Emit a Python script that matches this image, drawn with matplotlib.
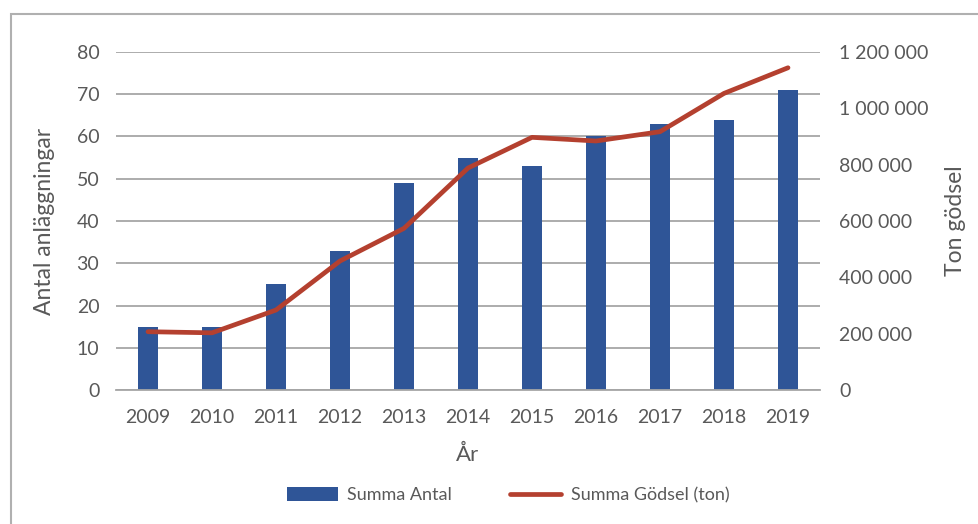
import numpy as np
import matplotlib
matplotlib.use('Agg')
from matplotlib import pyplot as plt
from matplotlib.patches import Rectangle
from matplotlib.ticker import FuncFormatter

# data
years        = ['2009', '2010', '2011', '2012', '2013', '2014',
                '2015', '2016', '2017', '2018', '2019']
summa_antal  = [15, 15, 25, 33, 49, 55, 53, 60, 63, 64, 71]
summa_godsel = [207000, 203000, 284000, 458000, 574000, 788000,
                897000, 884000, 917000, 1053000, 1144000]

bar_color  = '#2F5597'
line_color = '#B4402F'
text_color = '#595959'
grid_color = '#A6A6A6'

plt.rcParams['font.family'] = ['Lato', 'DejaVu Sans']

fig = plt.figure(figsize=(9.79, 5.24), dpi=100)
ax  = fig.add_axes([0.1185, 0.2557, 0.7191, 0.6451])
ax2 = ax.twinx()

x = np.arange(len(years))
bars = ax.bar(x, summa_antal, width=0.31, color=bar_color, zorder=2,
              label='Summa Antal')
line, = ax2.plot(x, summa_godsel, color=line_color, linewidth=3.4,
                 solid_capstyle='round', solid_joinstyle='round',
                 label='Summa Gödsel (ton)')

ax.set_xlim(-0.5, len(years) - 0.5)
ax.set_ylim(0, 80)
ax.set_yticks(np.arange(0, 81, 10))
ax2.set_ylim(0, 1200000)
ax2.set_yticks(np.arange(0, 1200001, 200000))
ax2.yaxis.set_major_formatter(
    FuncFormatter(lambda v, p: '{:,.0f}'.format(v).replace(',', ' ')))

ax.set_xticks(x)
ax.set_xticklabels(years)
ax.grid(axis='y', color=grid_color, linewidth=1.3, zorder=0)
ax.set_axisbelow(True)

for a in (ax, ax2):
    for s in a.spines.values():
        s.set_visible(False)
    a.tick_params(length=0, labelsize=14, colors=text_color)
ax.spines['bottom'].set_visible(True)
ax.spines['bottom'].set_color(grid_color)
ax.spines['bottom'].set_linewidth(1.3)
ax.tick_params(axis='y', pad=12)
ax.tick_params(axis='x', pad=14)
ax2.tick_params(axis='y', pad=14)

ax.set_xlabel('År', fontsize=16, color=text_color)
ax.set_ylabel('Antal anläggningar', fontsize=16.5, color=text_color)
ax2.set_ylabel('Ton gödsel', fontsize=16.5, color=text_color)
ax.xaxis.set_label_coords(0.5, -0.192)
ax.xaxis.label.set_verticalalignment('center')
ax.yaxis.set_label_coords(-0.101, 0.5)
ax.yaxis.label.set_verticalalignment('center')
ax2.yaxis.set_label_coords(1.192, 0.5)
ax2.yaxis.label.set_verticalalignment('center')

ax2.set_zorder(ax.get_zorder() + 1)
ax2.patch.set_visible(False)

fig.legend([bars, line], ['Summa Antal', 'Summa Gödsel (ton)'],
           loc='center', bbox_to_anchor=(0.519, 0.055), ncol=2,
           frameon=False, fontsize=13, labelcolor=text_color,
           handlelength=2.8, handleheight=0.75, columnspacing=3.2,
           handletextpad=0.55)

# outer chart frame
fig.patches.append(Rectangle((11 / 979, -0.05), 1.2, 1 - 14 / 524 + 0.05,
                             transform=fig.transFigure, fill=False,
                             edgecolor='#B0B0B0', linewidth=1.5))

fig.savefig('out.png', dpi=100)
